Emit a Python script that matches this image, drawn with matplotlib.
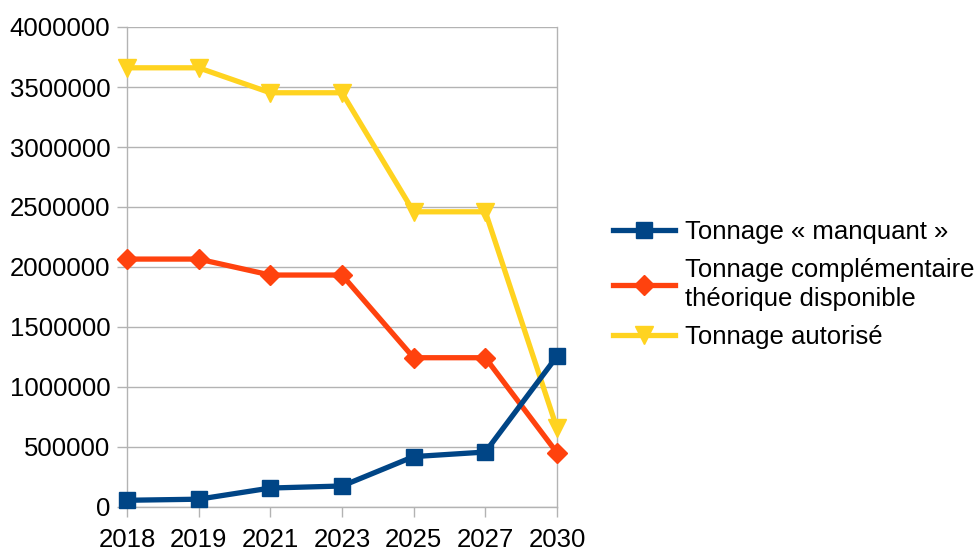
import matplotlib
matplotlib.use("Agg")
import matplotlib.pyplot as plt

years = ["2018", "2019", "2021", "2023", "2025", "2027", "2030"]
manquant = [56000, 65000, 158000, 175000, 420000, 458000, 1256000]
complementaire = [2066000, 2066000, 1933000, 1933000, 1244000, 1244000, 452000]
autorise = [3660000, 3660000, 3452000, 3452000, 2460000, 2460000, 655000]
y_ticks = [0, 500000, 1000000, 1500000, 2000000, 2500000, 3000000, 3500000, 4000000]

plt.rcParams['font.family'] = ['Liberation Sans', 'DejaVu Sans']

fig = plt.figure(figsize=(9.76, 5.49), dpi=100)
ax = fig.add_axes([127/976, 42/549, 430/976, 480/549])

x = list(range(len(years)))
lw = 3.8
ax.plot(x, manquant, color='#004586', lw=lw, marker='s', ms=12, clip_on=False, zorder=5,
        label="Tonnage « manquant »")
ax.plot(x, complementaire, color='#ff420e', lw=lw, marker='D', ms=10, clip_on=False, zorder=4,
        label="Tonnage complémentaire\nthéorique disponible")
ax.plot(x, autorise, color='#ffd320', lw=lw, marker='v', ms=13, clip_on=False, zorder=3,
        label="Tonnage autorisé")

ax.set_xlim(0, len(years) - 1)
ax.set_ylim(0, 4000000)
ax.set_xticks(x)
ax.set_xticklabels(years)
ax.set_yticks(y_ticks)
ax.set_yticklabels([str(v) for v in y_ticks])
ax.yaxis.grid(True, color='#b3b3b3', lw=1)
ax.set_axisbelow(True)
for s in ['left', 'right', 'bottom', 'top']:
    ax.spines[s].set_color('#b3b3b3')
    ax.spines[s].set_linewidth(1)
ax.spines['top'].set_visible(False)
ax.tick_params(axis='both', colors='#b3b3b3', labelcolor='black', labelsize=18.5, length=7, width=1)
ax.tick_params(axis='y', pad=5)
ax.tick_params(axis='x', pad=8)

leg = fig.legend(loc='upper left', bbox_to_anchor=(613/976, 1 - 220/549), frameon=False,
                 fontsize=18.5, handlelength=2.4, handletextpad=0.4, labelspacing=0.55,
                 borderpad=0, borderaxespad=0)
for t in leg.get_texts():
    t.set_linespacing(1.25)

fig.savefig("out.png", dpi=100)
